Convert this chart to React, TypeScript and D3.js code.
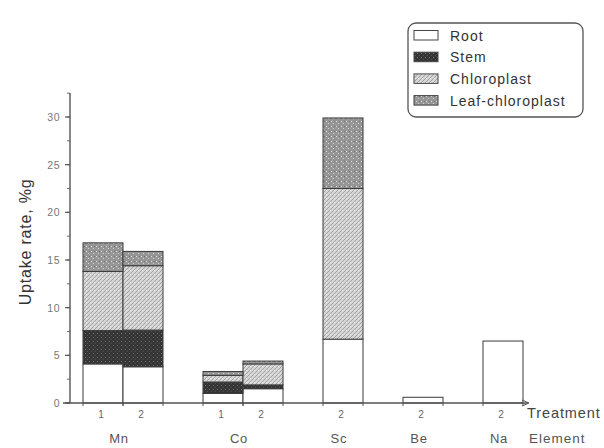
import React from "react";
import * as d3 from "d3";

const elements = ["Mn", "Mn", "Co", "Co", "Sc", "Be", "Na"];
const treatments = ["1", "2", "1", "2", "2", "2", "2"];
const slotKeys = ["Mn-1", "Mn-2", "g1", "Co-1", "Co-2", "g2", "Sc-2", "g3", "Be-2", "g4", "Na-2"];
const root = [4.1, 3.8, 1.0, 1.5, 6.7, 0.6, 6.5];
const stem = [3.5, 3.85, 1.2, 0.4, 0, 0, 0];
const chloroplast = [6.2, 6.75, 0.7, 2.2, 15.8, 0, 0];
const leafChloroplast = [3.0, 1.5, 0.4, 0.3, 7.4, 0, 0];
const seriesNames = ["Root", "Stem", "Chloroplast", "Leaf-chloroplast"];
const yTicks = [0, 5, 10, 15, 20, 25, 30];
const elementNames = ["Mn", "Co", "Sc", "Be", "Na"];

const W = 604, H = 448;
const x0 = 70, y0 = 403;

export default function App() {
  const rows = elements.map((e, i) => ({
    key: `${e}-${treatments[i]}`,
    element: e,
    treatment: treatments[i],
    Root: root[i],
    Stem: stem[i],
    Chloroplast: chloroplast[i],
    "Leaf-chloroplast": leafChloroplast[i],
  }));
  const x = d3.scaleBand<string>().domain(slotKeys).range([83, 523]).padding(0);
  const y = d3.scaleLinear().domain([0, 30]).range([y0, 117]);
  const stacked = d3.stack<any>().keys(seriesNames)(rows);
  const fills = ["#ffffff", "url(#pStem)", "url(#pChl)", "url(#pLeaf)"];
  const minor = d3.range(0, 32.6, 2.5);
  const font = "Liberation Sans, Arial, sans-serif";

  return (
    <svg width={W} height={H} style={{ position: "absolute", left: 0, top: 0 }} fontFamily={font}>
      <defs>
        <pattern id="pStem" width="4" height="4" patternUnits="userSpaceOnUse">
          <rect width="4" height="4" fill="#353535" />
          <rect x="1" y="1" width="1" height="1" fill="#7a7a7a" />
          <rect x="3" y="3" width="1" height="1" fill="#555" />
        </pattern>
        <pattern id="pChl" width="4" height="4" patternUnits="userSpaceOnUse">
          <rect width="4" height="4" fill="#d6d6d6" />
          <path d="M0,4 L4,0 M-1,1 L1,-1 M3,5 L5,3" stroke="#a0a0a0" strokeWidth="1" />
          <rect x="2" y="2" width="1" height="1" fill="#f4f4f4" />
        </pattern>
        <pattern id="pLeaf" width="5" height="5" patternUnits="userSpaceOnUse">
          <rect width="5" height="5" fill="#969696" />
          <rect x="1" y="1" width="1" height="1" fill="#e4e4e4" />
          <rect x="3" y="3" width="1" height="1" fill="#d4d4d4" />
          <rect x="4" y="1" width="1" height="1" fill="#707070" />
        </pattern>
      </defs>
      <rect width={W} height={H} fill="#fff" />

      {/* bars */}
      {stacked.map((s, si) =>
        s.map((d, i) => {
          const h = y(d[0]) - y(d[1]);
          if (h <= 0) return null;
          return (
            <rect
              key={`${si}-${i}`}
              x={x(rows[i].key)!}
              y={y(d[1])}
              width={x.bandwidth()}
              height={h}
              fill={fills[si]}
              stroke="#3a3a3a"
              strokeWidth={1}
            />
          );
        })
      )}

      {/* y axis */}
      <line x1={x0} x2={x0} y1={93} y2={y0} stroke="#555" strokeWidth={1.4} />
      {minor.map((v) => (
        <line key={"m" + v} x1={x0 - 3} x2={x0} y1={y(v)} y2={y(v)} stroke="#666" />
      ))}
      {yTicks.map((v) => (
        <g key={v}>
          <line x1={x0 - 5} x2={x0} y1={y(v)} y2={y(v)} stroke="#555" strokeWidth={1.2} />
          <text x={x0 - 10} y={y(v) + 4} fontSize={10.5} fill="#777" textAnchor="end" letterSpacing={0.5}>
            {v}
          </text>
        </g>
      ))}
      <text
        transform={`translate(31,${242}) rotate(-90)`}
        textAnchor="middle"
        fontSize={16}
        fill="#333"
        letterSpacing={0.8}
      >
        Uptake rate, %g
      </text>

      {/* x axis */}
      <line x1={63} x2={528} y1={y0} y2={y0} stroke="#555" strokeWidth={1.4} />
      <path d={`M522,${y0 - 3} L529,${y0} L522,${y0 + 3}`} fill="none" stroke="#555" />
      {rows.map((r) => (
        <g key={"t" + r.key}>
          <line x1={x(r.key)!} x2={x(r.key)!} y1={y0} y2={y0 + 3} stroke="#555" />
          <line x1={x(r.key)! + x.bandwidth()} x2={x(r.key)! + x.bandwidth()} y1={y0} y2={y0 + 3} stroke="#555" />
          <text x={x(r.key)! + x.bandwidth() / 2 - 2} y={y0 + 15} fontSize={10} fill="#666" textAnchor="middle">
            {r.treatment}
          </text>
        </g>
      ))}
      {elementNames.map((e) => {
        const ks = rows.filter((r) => r.element === e);
        const a = x(ks[0].key)!;
        const b = x(ks[ks.length - 1].key)! + x.bandwidth();
        return (
          <text key={e} x={(a + b) / 2 - 4} y={443} fontSize={13} fill="#555" textAnchor="middle" letterSpacing={0.8}>
            {e}
          </text>
        );
      })}
      <text x={527} y={418} fontSize={14.5} fill="#444" letterSpacing={0.9}>Treatment</text>
      <text x={529} y={443} fontSize={13.5} fill="#555" letterSpacing={1}>Element</text>

      {/* legend */}
      <rect x={408} y={23} width={175} height={94} rx={8} fill="#fff" stroke="#555" strokeWidth={1.3} />
      {seriesNames.map((n, i) => (
        <g key={n}>
          <rect x={414} y={30.5 + i * 21.7} width={24} height={9.5} fill={fills[i]} stroke="#444" />
          <text x={450} y={40.5 + i * 21.7} fontSize={14} fill="#333" letterSpacing={1}>
            {n}
          </text>
        </g>
      ))}
    </svg>
  );
}
